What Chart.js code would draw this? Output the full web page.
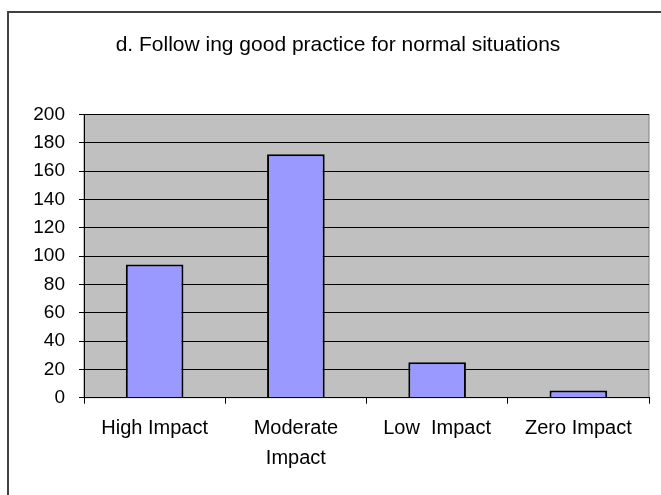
<!DOCTYPE html>
<html>
<head>
<meta charset="utf-8">
<script src="https://cdn.jsdelivr.net/npm/chart.js@4.4.1/dist/chart.umd.min.js"></script>
<style>
  html, body { margin: 0; padding: 0; background: #fff; overflow: hidden; }
  #frame {
    position: absolute; left: 7px; top: 11px; width: 800px; height: 800px;
    border-left: 2px solid #404040; border-top: 2px solid #404040;
  }
  #chart { position: absolute; left: 0; top: 0; }
</style>
</head>
<body>
<div id="frame"></div>
<canvas id="chart" width="661" height="495"></canvas>
<script>
// ---- data ----
const chartTitle = "d. Follow ing good practice for normal situations";
const categories = ["High Impact", ["Moderate", "Impact"], "Low  Impact", "Zero Impact"];
const responses = [94, 172, 25, 5];
const yTicks = [0, 20, 40, 60, 80, 100, 120, 140, 160, 180, 200];

const FONT = "'Liberation Sans', Arial, sans-serif";

// gray plot area + border, title text
const plotBackground = {
  id: "plotBackground",
  beforeDraw(chart) {
    const { ctx, chartArea: a } = chart;
    ctx.save();
    ctx.fillStyle = "#C0C0C0";
    ctx.fillRect(a.left, a.top, a.right - a.left, a.bottom - a.top);
    ctx.strokeStyle = "#808080";
    ctx.lineWidth = 1;
    ctx.strokeRect(a.left, a.top, a.right - a.left, a.bottom - a.top);
    ctx.restore();
  },
  afterDraw(chart) {
    const ctx = chart.ctx;
    ctx.save();
    ctx.font = "21px " + FONT;
    ctx.fillStyle = "#000";
    ctx.textAlign = "center";
    ctx.textBaseline = "alphabetic";
    ctx.fillText(chartTitle, 338, 51);
    ctx.restore();
  }
};

new Chart(document.getElementById("chart"), {
  type: "bar",
  data: {
    labels: categories,
    datasets: [{
      data: responses,
      backgroundColor: "#9999FF",
      borderColor: "#000",
      borderWidth: 2,
      barPercentage: 0.408,
      categoryPercentage: 1
    }]
  },
  options: {
    responsive: false,
    animation: false,
    layout: { padding: { top: 114.5, right: 12, left: 0, bottom: 0 } },
    plugins: {
      legend: { display: false },
      title: { display: false },
      tooltip: { enabled: false }
    },
    scales: {
      x: {
        grid: {
          offset: true,
          drawOnChartArea: false,
          drawTicks: true,
          tickLength: 6,
          color: "#000"
        },
        border: { color: "#000", width: 1 },
        ticks: {
          color: "#000",
          padding: 10,
          maxRotation: 0,
          autoSkip: false,
          font: { family: FONT, size: 20, lineHeight: 1.5 }
        },
        afterFit(scale) { scale.height = 97.3; }
      },
      y: {
        min: 0,
        max: 200,
        afterBuildTicks(scale) { scale.ticks = yTicks.map(v => ({ value: v })); },
        grid: { color: "#000", lineWidth: 1, tickLength: 5, drawTicks: true },
        border: { color: "#000", width: 1 },
        ticks: {
          color: "#000",
          padding: 14,
          font: { family: FONT, size: 19 }
        },
        afterFit(scale) { scale.width = 84; }
      }
    }
  },
  plugins: [plotBackground]
});
</script>
</body>
</html>
